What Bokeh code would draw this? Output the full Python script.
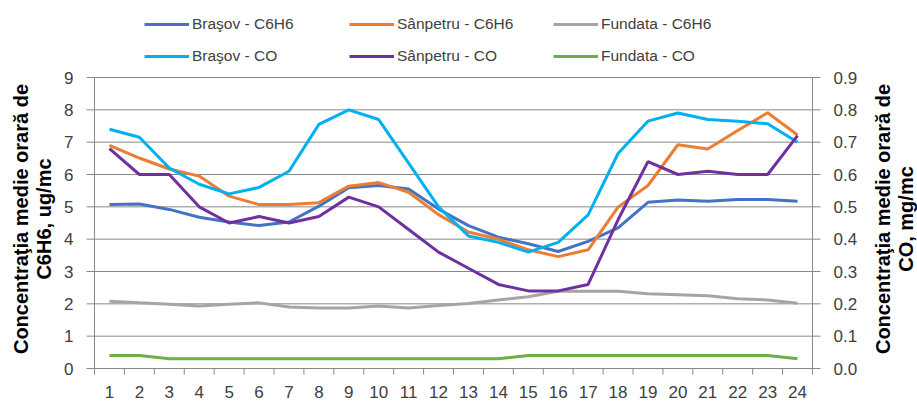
import math
from bokeh.plotting import figure
from bokeh.models import Range1d, Legend, LegendItem, ColumnDataSource
from bokeh.core.properties import value
from bokeh.embed import file_html
from bokeh.resources import INLINE

# ---- data ----
hours = list(range(1, 25))
hour_labels = [str(h) for h in hours]

brasov_c6h6 = [5.07, 5.09, 4.92, 4.68, 4.53, 4.42, 4.53, 5.02, 5.59, 5.66, 5.55, 4.93,
               4.42, 4.06, 3.86, 3.62, 3.93, 4.35, 5.14, 5.21, 5.17, 5.23, 5.23, 5.17]
sanpetru_c6h6 = [6.90, 6.51, 6.17, 5.95, 5.33, 5.07, 5.07, 5.13, 5.64, 5.75, 5.45, 4.76,
                 4.22, 4.00, 3.67, 3.46, 3.67, 4.99, 5.66, 6.92, 6.79, 7.36, 7.91, 7.22]
fundata_c6h6 = [2.08, 2.03, 1.99, 1.93, 1.99, 2.03, 1.90, 1.87, 1.87, 1.93, 1.87, 1.95,
                2.01, 2.12, 2.22, 2.39, 2.39, 2.39, 2.31, 2.28, 2.25, 2.16, 2.12, 2.02]

brasov_co = [0.74, 0.715, 0.62, 0.57, 0.54, 0.56, 0.61, 0.755, 0.80, 0.77, 0.635, 0.50,
             0.41, 0.39, 0.36, 0.39, 0.475, 0.665, 0.765, 0.79, 0.77, 0.765, 0.757, 0.70]
sanpetru_co = [0.68, 0.60, 0.60, 0.50, 0.45, 0.47, 0.45, 0.47, 0.53, 0.50, 0.43, 0.36,
               0.31, 0.26, 0.24, 0.24, 0.26, 0.46, 0.64, 0.60, 0.61, 0.60, 0.60, 0.72]
fundata_co = [0.04, 0.04, 0.03, 0.03, 0.03, 0.03, 0.03, 0.03, 0.03, 0.03, 0.03, 0.03,
              0.03, 0.03, 0.04, 0.04, 0.04, 0.04, 0.04, 0.04, 0.04, 0.04, 0.04, 0.03]

left_ticks = [0, 1, 2, 3, 4, 5, 6, 7, 8, 9]
left_tick_labels = ["0", "1", "2", "3", "4", "5", "6", "7", "8", "9"]
right_ticks = [0.0, 0.1, 0.2, 0.3, 0.4, 0.5, 0.6, 0.7, 0.8, 0.9]
right_tick_labels = ["0.0", "0.1", "0.2", "0.3", "0.4", "0.5", "0.6", "0.7", "0.8", "0.9"]

series_names = ["Braşov - C6H6", "Sânpetru - C6H6", "Fundata - C6H6",
                "Braşov - CO", "Sânpetru - CO", "Fundata - CO"]
colors = ["#4472C4", "#ED7D31", "#A5A5A5", "#00B0F0", "#7030A0", "#70AD47"]

left_title_lines = ["Concentraţia medie orară de", "C6H6, ug/mc"]
right_title_lines = ["Concentraţia medie orară de", "CO, mg/mc"]

# ---- geometry (pixels) ----
W, H = 917, 403
PL, PR, PT, PB = 94, 105, 77, 35      # margins around the data area
PLOT_W, PLOT_H = W - PL - PR, H - PT - PB

X0, X1 = 0.5, 24.5
Y1 = left_ticks[-1]
Y1_CO = right_ticks[-1]
ppx = PLOT_W / (X1 - X0)
ppy = PLOT_H / Y1
ppy_co = PLOT_H / Y1_CO

GRID = "#888888"
TICKTXT = "#404040"
FONT = value("Liberation Sans")

p = figure(width=W, height=H, output_backend="svg", toolbar_location=None,
           x_range=Range1d(X0 - PL / ppx, X1 + PR / ppx),
           y_range=Range1d(-PB / ppy, Y1 + PT / ppy),
           min_border=0, x_axis_type=None, y_axis_type=None)
p.outline_line_color = None
p.background_fill_color = "white"
p.border_fill_color = "white"
p.extra_y_ranges = {"co": Range1d(-PB / ppy_co, Y1_CO + PT / ppy_co)}

# horizontal gridlines over the data area only
p.segment(x0=[X0] * len(left_ticks), x1=[X1] * len(left_ticks), y0=left_ticks,
          y1=left_ticks, line_color=GRID, line_width=1)

# ---- category (hour) axis ----
x_edges = [h - 0.5 for h in hours] + [X1]
p.segment(x0=[X0], x1=[X1], y0=[0], y1=[0], line_color=GRID, line_width=1)
p.ray(x=x_edges, y=[0] * len(x_edges), length=6, length_units="screen",
      angle=-math.pi / 2, line_color=GRID, line_width=1)
p.text(x=hours, y=[0] * len(hours), text=hour_labels, y_offset=23,
       text_align="center", text_baseline="middle", text_font=FONT,
       text_font_size="17px", text_color=TICKTXT)

# ---- series ----
renderers = []
for ys, col in zip([brasov_c6h6, sanpetru_c6h6, fundata_c6h6], colors[:3]):
    renderers.append(p.line(hours, ys, line_color=col, line_width=3))
for ys, col in zip([brasov_co, sanpetru_co, fundata_co], colors[3:]):
    renderers.append(p.line(hours, ys, line_color=col, line_width=3, y_range_name="co"))

# ---- primary (C6H6) axis on the left ----
p.segment(x0=[X0], x1=[X0], y0=[0], y1=[Y1], line_color=GRID, line_width=1)
p.ray(x=[X0] * len(left_ticks), y=left_ticks, length=8, length_units="screen",
      angle=math.pi, line_color=GRID, line_width=1)
p.text(x=[X0] * len(left_ticks), y=left_ticks, text=left_tick_labels, x_offset=-21,
       text_align="right", text_baseline="middle", text_font=FONT,
       text_font_size="17px", text_color=TICKTXT)
lt = ColumnDataSource(dict(x=[X0, X0], y=[Y1 / 2, Y1 / 2], text=left_title_lines,
                           xo=[-74, -51]))
p.text(x="x", y="y", text="text", x_offset="xo", y_offset=-4, source=lt,
       angle=math.pi / 2, text_align="center", text_baseline="middle", text_font=FONT,
       text_font_style="bold", text_font_size="20px", text_color="#000000")

# ---- secondary (CO) axis on the right ----
p.segment(x0=[X1], x1=[X1], y0=[0], y1=[Y1_CO], line_color=GRID, line_width=1,
          y_range_name="co")
p.ray(x=[X1] * len(right_ticks), y=right_ticks, length=8, length_units="screen",
      angle=0, line_color=GRID, line_width=1, y_range_name="co")
p.text(x=[X1] * len(right_ticks), y=right_ticks, text=right_tick_labels, x_offset=21,
       text_align="left", text_baseline="middle", text_font=FONT,
       text_font_size="17px", text_color=TICKTXT, y_range_name="co")
rt = ColumnDataSource(dict(x=[X1, X1], y=[Y1_CO / 2, Y1_CO / 2], text=right_title_lines,
                           xo=[70, 93]))
p.text(x="x", y="y", text="text", x_offset="xo", y_offset=-4, source=rt,
       angle=math.pi / 2, text_align="center", text_baseline="middle", text_font=FONT,
       text_font_style="bold", text_font_size="20px", text_color="#000000",
       y_range_name="co")

# ---- legend: three columns of two rows, above the data area ----
col_x = [144, 349, 553]
for c in range(3):
    items = [LegendItem(label=series_names[c], renderers=[renderers[c]]),
             LegendItem(label=series_names[c + 3], renderers=[renderers[c + 3]])]
    lg = Legend(items=items, location=(col_x[c], H - 14 - 52), orientation="vertical",
                glyph_width=45, glyph_height=20, label_standoff=3, spacing=12,
                padding=0, margin=0, border_line_color=None,
                background_fill_alpha=0.0,
                label_text_font="Liberation Sans", label_text_font_size="15.5px",
                label_text_color="#404040", label_height=20)
    p.add_layout(lg, "center")

open("out.html", "w").write(file_html(p, INLINE))
